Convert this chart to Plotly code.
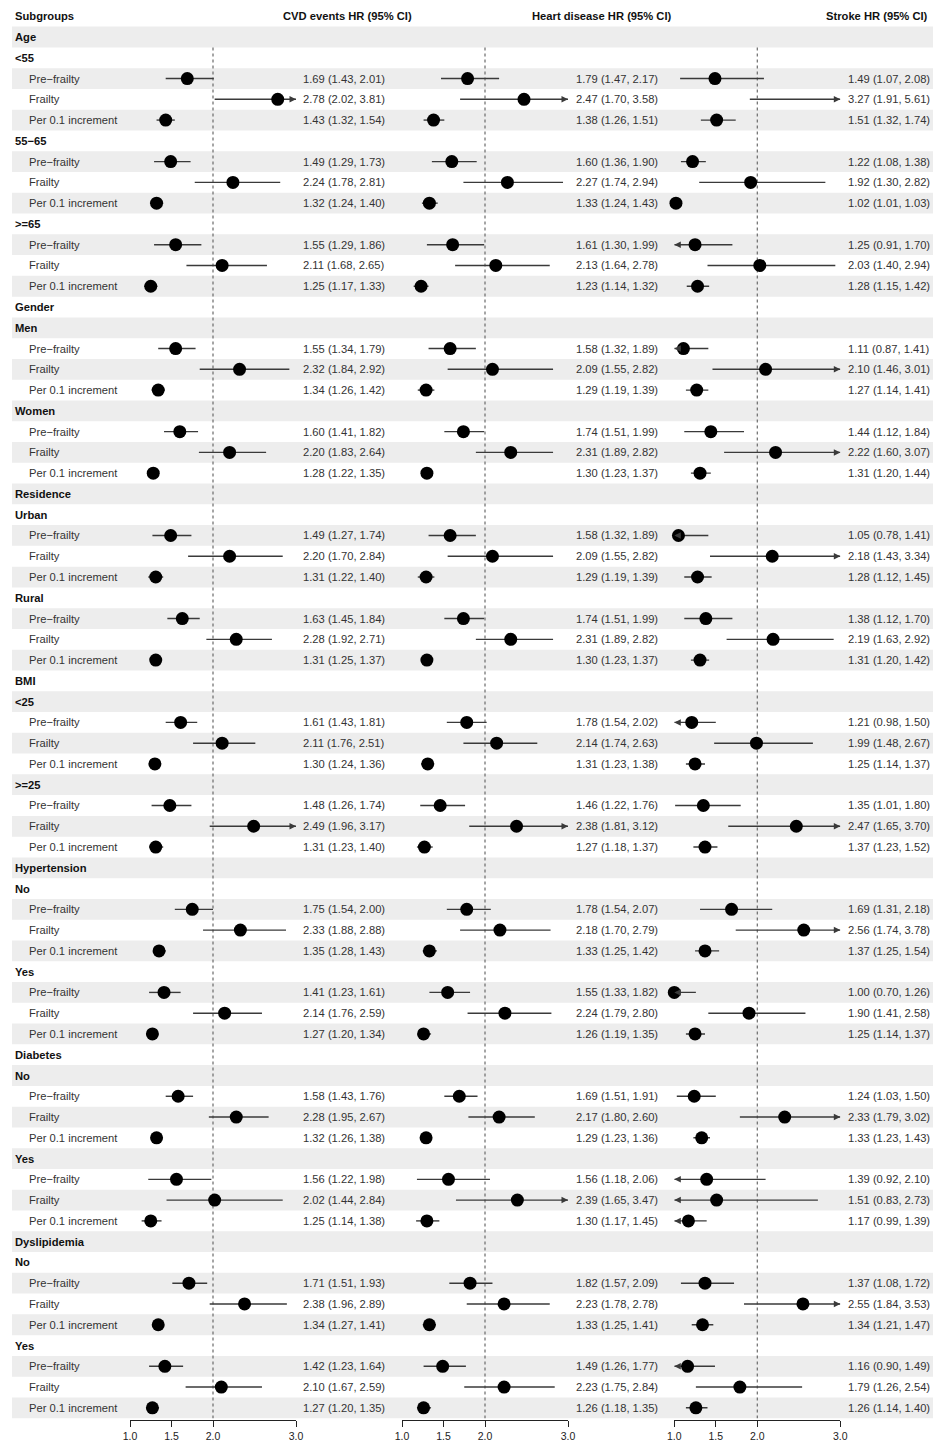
import plotly.graph_objects as go

W, H = 935, 1441

groups = ["Age", "Gender", "Residence", "BMI", "Hypertension", "Diabetes", "Dyslipidemia"]
subgroups = [["<55", "55\u221265", ">=65"], ["Men", "Women"], ["Urban", "Rural"],
             ["<25", ">=25"], ["No", "Yes"], ["No", "Yes"], ["No", "Yes"]]
measures = ["Pre\u2212frailty", "Frailty", "Per 0.1 increment"]

outcomes = ["CVD events HR (95% CI)", "Heart disease HR (95% CI)", "Stroke HR (95% CI)"]

cvd_est = [1.69, 2.78, 1.43, 1.49, 2.24, 1.32, 1.55, 2.11, 1.25, 1.55, 2.32, 1.34, 1.60, 2.20, 1.28,
           1.49, 2.20, 1.31, 1.63, 2.28, 1.31, 1.61, 2.11, 1.30, 1.48, 2.49, 1.31, 1.75, 2.33, 1.35,
           1.41, 2.14, 1.27, 1.58, 2.28, 1.32, 1.56, 2.02, 1.25, 1.71, 2.38, 1.34, 1.42, 2.10, 1.27]
cvd_lo = [1.43, 2.02, 1.32, 1.29, 1.78, 1.24, 1.29, 1.68, 1.17, 1.34, 1.84, 1.26, 1.41, 1.83, 1.22,
          1.27, 1.70, 1.22, 1.45, 1.92, 1.25, 1.43, 1.76, 1.24, 1.26, 1.96, 1.23, 1.54, 1.88, 1.28,
          1.23, 1.76, 1.20, 1.43, 1.95, 1.26, 1.22, 1.44, 1.14, 1.51, 1.96, 1.27, 1.23, 1.67, 1.20]
cvd_hi = [2.01, 3.81, 1.54, 1.73, 2.81, 1.40, 1.86, 2.65, 1.33, 1.79, 2.92, 1.42, 1.82, 2.64, 1.35,
          1.74, 2.84, 1.40, 1.84, 2.71, 1.37, 1.81, 2.51, 1.36, 1.74, 3.17, 1.40, 2.00, 2.88, 1.43,
          1.61, 2.59, 1.34, 1.76, 2.67, 1.38, 1.98, 2.84, 1.38, 1.93, 2.89, 1.41, 1.64, 2.59, 1.35]

heart_est = [1.79, 2.47, 1.38, 1.60, 2.27, 1.33, 1.61, 2.13, 1.23, 1.58, 2.09, 1.29, 1.74, 2.31, 1.30,
             1.58, 2.09, 1.29, 1.74, 2.31, 1.30, 1.78, 2.14, 1.31, 1.46, 2.38, 1.27, 1.78, 2.18, 1.33,
             1.55, 2.24, 1.26, 1.69, 2.17, 1.29, 1.56, 2.39, 1.30, 1.82, 2.23, 1.33, 1.49, 2.23, 1.26]
heart_lo = [1.47, 1.70, 1.26, 1.36, 1.74, 1.24, 1.30, 1.64, 1.14, 1.32, 1.55, 1.19, 1.51, 1.89, 1.23,
            1.32, 1.55, 1.19, 1.51, 1.89, 1.23, 1.54, 1.74, 1.23, 1.22, 1.81, 1.18, 1.54, 1.70, 1.25,
            1.33, 1.79, 1.19, 1.51, 1.80, 1.23, 1.18, 1.65, 1.17, 1.57, 1.78, 1.25, 1.26, 1.75, 1.18]
heart_hi = [2.17, 3.58, 1.51, 1.90, 2.94, 1.43, 1.99, 2.78, 1.32, 1.89, 2.82, 1.39, 1.99, 2.82, 1.37,
            1.89, 2.82, 1.39, 1.99, 2.82, 1.37, 2.02, 2.63, 1.38, 1.76, 3.12, 1.37, 2.07, 2.79, 1.42,
            1.82, 2.80, 1.35, 1.91, 2.60, 1.36, 2.06, 3.47, 1.45, 2.09, 2.78, 1.41, 1.77, 2.84, 1.35]

stroke_est = [1.49, 3.27, 1.51, 1.22, 1.92, 1.02, 1.25, 2.03, 1.28, 1.11, 2.10, 1.27, 1.44, 2.22, 1.31,
              1.05, 2.18, 1.28, 1.38, 2.19, 1.31, 1.21, 1.99, 1.25, 1.35, 2.47, 1.37, 1.69, 2.56, 1.37,
              1.00, 1.90, 1.25, 1.24, 2.33, 1.33, 1.39, 1.51, 1.17, 1.37, 2.55, 1.34, 1.16, 1.79, 1.26]
stroke_lo = [1.07, 1.91, 1.32, 1.08, 1.30, 1.01, 0.91, 1.40, 1.15, 0.87, 1.46, 1.14, 1.12, 1.60, 1.20,
             0.78, 1.43, 1.12, 1.12, 1.63, 1.20, 0.98, 1.48, 1.14, 1.01, 1.65, 1.23, 1.31, 1.74, 1.25,
             0.70, 1.41, 1.14, 1.03, 1.79, 1.23, 0.92, 0.83, 0.99, 1.08, 1.84, 1.21, 0.90, 1.26, 1.14]
stroke_hi = [2.08, 5.61, 1.74, 1.38, 2.82, 1.03, 1.70, 2.94, 1.42, 1.41, 3.01, 1.41, 1.84, 3.07, 1.44,
             1.41, 3.34, 1.45, 1.70, 2.92, 1.42, 1.50, 2.67, 1.37, 1.80, 3.70, 1.52, 2.18, 3.78, 1.54,
             1.26, 2.58, 1.37, 1.50, 3.02, 1.43, 2.10, 2.73, 1.39, 1.72, 3.53, 1.47, 1.49, 2.54, 1.40]

tick_vals = [1.0, 1.5, 2.0, 3.0]
tick_text = ["1.0", "1.5", "2.0", "3.0"]
x_min, x_max, ref_line = 1.0, 3.0, 2.0

series = [(cvd_est, cvd_lo, cvd_hi), (heart_est, heart_lo, heart_hi), (stroke_est, stroke_lo, stroke_hi)]

# ---- layout geometry (pixels) ----
ROW0, ROWH = 37.0, 20.77
AXIS_Y = 1420.0
panel_px = [(130.0, 296.0), (402.0, 568.0), (674.3, 840.3)]
value_right_px = [387.0, 660.0, 931.5]
header_center_px = [347.5, 602.0, 876.5]
LABEL_FONT = "Liberation Sans, Arial, Helvetica, sans-serif"

# build rows
rows = []  # (label, kind, data_index)
k = 0
for g, subs in zip(groups, subgroups):
    rows.append((g, "group", None))
    for s in subs:
        rows.append((s, "sub", None))
        for m in measures:
            rows.append((m, "item", k))
            k += 1
n_rows = len(rows)

fig = go.Figure()
axis_names = ["x", "x2", "x3"]

for p, (est, lo, hi) in enumerate(series):
    xs, ys = [], []
    mx, my = [], []
    for i, (lab, kind, di) in enumerate(rows):
        if di is None:
            continue
        a = max(lo[di], x_min)
        b = min(hi[di], x_max)
        if b > a:
            xs += [a, b, None]
            ys += [i, i, None]
        if x_min <= est[di] <= x_max:
            mx.append(est[di])
            my.append(i)
    fig.add_trace(go.Scatter(x=xs, y=ys, mode="lines", xaxis=axis_names[p], yaxis="y",
                             line=dict(color="#3a3a3a", width=1.4), hoverinfo="skip", showlegend=False))
    fig.add_trace(go.Scatter(x=mx, y=my, mode="markers", xaxis=axis_names[p], yaxis="y",
                             marker=dict(color="black", size=13, line=dict(width=0)),
                             cliponaxis=False, hoverinfo="skip", showlegend=False))

shapes = []
annotations = []

# stripes
for i in range(0, n_rows, 2):
    shapes.append(dict(type="rect", xref="paper", yref="y", x0=12 / W, x1=933 / W,
                       y0=i - 0.5, y1=i + 0.5, fillcolor="#EDEDED", line=dict(width=0), layer="below"))

# reference lines
for p in range(3):
    shapes.append(dict(type="line", xref=axis_names[p], yref="y", x0=ref_line, x1=ref_line,
                       y0=0.5, y1=n_rows - 0.5,
                       line=dict(color="#6a6a6a", width=1.2, dash="3px,3px"), layer="below"))

# arrows for clipped CIs
for p, (est, lo, hi) in enumerate(series):
    for i, (lab, kind, di) in enumerate(rows):
        if di is None:
            continue
        if hi[di] > x_max:
            annotations.append(dict(x=x_max, y=i, xref=axis_names[p], yref="y", ax=-8, ay=0,
                                    text="", showarrow=True, arrowhead=2, arrowsize=1,
                                    arrowwidth=1.3, arrowcolor="#3a3a3a", standoff=0))
        if lo[di] < x_min:
            annotations.append(dict(x=x_min, y=i, xref=axis_names[p], yref="y", ax=8, ay=0,
                                    text="", showarrow=True, arrowhead=2, arrowsize=1,
                                    arrowwidth=1.3, arrowcolor="#3a3a3a", standoff=0))

# header row
annotations.append(dict(x=13 / W, y=-1, xref="paper", yref="y", xanchor="left", yanchor="middle",
                        text="<b>Subgroups</b>", showarrow=False,
                        font=dict(family=LABEL_FONT, size=11.2, color="#111")))
for p in range(3):
    annotations.append(dict(x=header_center_px[p] / W, y=-1, xref="paper", yref="y",
                            xanchor="center", yanchor="middle", text="<b>" + outcomes[p] + "</b>",
                            showarrow=False, font=dict(family=LABEL_FONT, size=11.2, color="#111")))

# row labels and values
for i, (lab, kind, di) in enumerate(rows):
    if kind in ("group", "sub"):
        annotations.append(dict(x=13 / W, y=i, xref="paper", yref="y", xanchor="left", yanchor="middle",
                                text="<b>" + lab + "</b>", showarrow=False,
                                font=dict(family=LABEL_FONT, size=11.2, color="#111")))
    else:
        annotations.append(dict(x=26.5 / W, y=i, xref="paper", yref="y", xanchor="left", yanchor="middle",
                                text=lab, showarrow=False,
                                font=dict(family=LABEL_FONT, size=11.2, color="#333")))
        for p, (est, lo, hi) in enumerate(series):
            txt = f"{est[di]:.2f} ({lo[di]:.2f}, {hi[di]:.2f})"
            annotations.append(dict(x=value_right_px[p] / W, y=i, xref="paper", yref="y",
                                    xanchor="right", yanchor="middle", text=txt, showarrow=False,
                                    font=dict(family=LABEL_FONT, size=11.2, color="#333")))

y_top = (0 - ROW0) / ROWH
y_bot = (AXIS_Y - ROW0) / ROWH

layout = dict(
    width=W, height=H, autosize=False,
    margin=dict(l=0, r=0, t=0, b=0, pad=0, autoexpand=False),
    paper_bgcolor="white", plot_bgcolor="rgba(0,0,0,0)",
    shapes=shapes, annotations=annotations,
    showlegend=False,
    yaxis=dict(domain=[(H - AXIS_Y) / H, 1], range=[y_bot, y_top], visible=False,
               showgrid=False, zeroline=False, fixedrange=True, automargin=False),
)
for p in range(3):
    key = "xaxis" if p == 0 else f"xaxis{p + 1}"
    layout[key] = dict(domain=[panel_px[p][0] / W, panel_px[p][1] / W], range=[x_min, x_max],
                       anchor="y", showline=True, linecolor="#222", linewidth=1,
                       ticks="outside", ticklen=6, tickcolor="#222", tickwidth=1,
                       tickvals=tick_vals, ticktext=tick_text, showgrid=False, zeroline=False,
                       automargin=False,
                       tickfont=dict(family=LABEL_FONT, size=10.5, color="#222"), fixedrange=True)

fig.update_layout(**layout)

post = ("document.documentElement.style.margin='0';document.documentElement.style.padding='0';"
        "document.body.style.margin='0';document.body.style.padding='0';"
        "document.body.style.overflow='hidden';document.documentElement.style.overflow='hidden';"
        "var gd=document.getElementById('{plot_id}');"
        "Plotly.relayout(gd,{width:935,height:1441});")
fig.write_html("out.html", config={"responsive": False, "displayModeBar": False},
               default_width="935px", default_height="1441px", post_script=post)
